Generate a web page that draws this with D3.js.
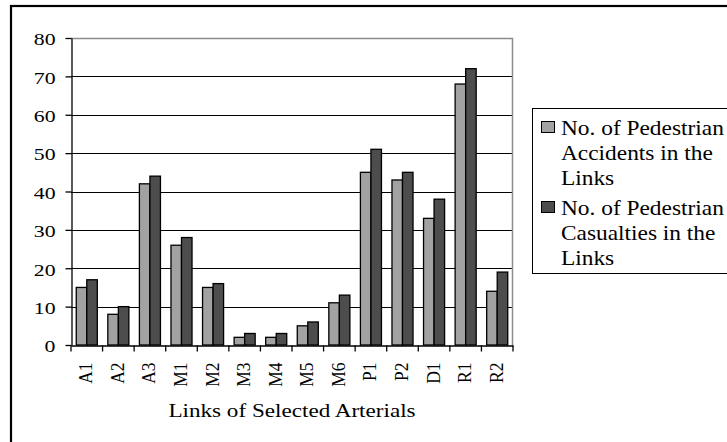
<!DOCTYPE html>
<html>
<head>
<meta charset="utf-8">
<script src="https://cdn.jsdelivr.net/npm/d3@7"></script>
<style>
  body { margin: 0; background: #fff; }
  svg { display: block; }
  text { font-family: "Liberation Serif", "Times New Roman", serif; fill: #000; }
</style>
</head>
<body>
<svg id="chart" width="727" height="442"></svg>
<script>
// Pedestrian accidents and casualties per arterial link
const links = ["A1", "A2", "A3", "M1", "M2", "M3", "M4", "M5", "M6", "P1", "P2", "D1", "R1", "R2"];
const accidents = [15, 8, 42, 26, 15, 2, 2, 5, 11, 45, 43, 33, 68, 14];
const casualties = [17, 10, 44, 28, 16, 3, 3, 6, 13, 51, 45, 38, 72, 19];
const yTickValues = [0, 10, 20, 30, 40, 50, 60, 70, 80];
const seriesLabels = [
  ["No. of Pedestrian", "Accidents in the", "Links"],
  ["No. of Pedestrian", "Casualties in the", "Links"]
];
const seriesColors = ["#a2a2a2", "#4d4d4d"];
const xTitle = "Links of Selected Arterials";

const series = [accidents, casualties];
const svg = d3.select("#chart");

// plot frame
const plot = { left: 71, right: 513, top: 38, bottom: 345 };
const stretch = 1.28; // wide serif lettering for the value axis

// outer chart border
svg.append("rect")
  .attr("x", 11).attr("y", 6)
  .attr("width", 760).attr("height", 480)
  .attr("fill", "none").attr("stroke", "#000").attr("stroke-width", 2.2);

const x = d3.scaleBand().domain(links).range([plot.left, plot.right]).paddingInner(0).paddingOuter(0);
const xSub = d3.scaleBand().domain([0, 1]).range([0, x.bandwidth()]).paddingInner(0).paddingOuter(0.5);
const y = d3.scaleLinear().domain([0, 80]).range([plot.bottom, plot.top]);

// gridlines
svg.append("g").selectAll("line")
  .data(yTickValues.filter(v => v > 0 && v < 80))
  .join("line")
  .attr("x1", plot.left).attr("x2", plot.right)
  .attr("y1", d => Math.round(y(d)) + 0.5).attr("y2", d => Math.round(y(d)) + 0.5)
  .attr("stroke", "#000").attr("stroke-width", 1);

// plot area border (top and right)
svg.append("path")
  .attr("d", `M${plot.left},${plot.top + 0.5}H${plot.right - 0.5}V${plot.bottom}`)
  .attr("fill", "none").attr("stroke", "#8c8c8c").attr("stroke-width", 1.5);

// bars
const groups = svg.append("g").selectAll("g")
  .data(links)
  .join("g")
  .attr("transform", d => `translate(${x(d)},0)`);

groups.selectAll("rect")
  .data((d, i) => series.map((s, k) => ({ k, v: s[i] })))
  .join("rect")
  .attr("x", d => xSub(d.k))
  .attr("y", d => y(d.v))
  .attr("width", xSub.bandwidth())
  .attr("height", d => y(0) - y(d.v))
  .attr("fill", d => seriesColors[d.k])
  .attr("stroke", "#000")
  .attr("stroke-width", 1.3);

// y axis
const yAxis = d3.axisLeft(y).tickValues(yTickValues).tickSize(6).tickPadding(10).tickSizeOuter(0);
const gy = svg.append("g").attr("transform", `translate(${plot.left + 0.5},0)`).call(yAxis);
gy.select(".domain").attr("stroke", "#000").attr("stroke-width", 1.3);
gy.selectAll(".tick line").attr("stroke", "#000").attr("stroke-width", 1.3);
gy.selectAll(".tick text")
  .attr("font-size", 17)
  .each(function () {
    const t = d3.select(this);
    const tx = +t.attr("x");
    t.attr("x", null).attr("transform", `translate(${tx},1) scale(${stretch},1)`).attr("dy", "0.34em");
  });

// x axis
const xAxis = d3.axisBottom(x).tickSize(6).tickSizeOuter(0).tickFormat("");
const gx = svg.append("g").attr("transform", `translate(0,${plot.bottom + 0.5})`).call(xAxis);
gx.select(".domain").attr("stroke", "#000").attr("stroke-width", 1.3);
// ticks sit on category boundaries
gx.selectAll(".tick").remove();
gx.append("g").selectAll("line")
  .data(links.map(d => x(d)).concat([plot.right]))
  .join("line")
  .attr("x1", d => d).attr("x2", d => d)
  .attr("y1", 0).attr("y2", 6)
  .attr("stroke", "#000").attr("stroke-width", 1.3);

gx.append("g").selectAll("text")
  .data(links)
  .join("text")
  .attr("transform", d => `translate(${x(d) + x.bandwidth() / 2 - 1},17) scale(1.12,1) rotate(-90)`)
  .attr("text-anchor", "end")
  .attr("dy", "0.33em")
  .attr("font-size", 17.5)
  .text(d => d);

// x axis title
svg.append("text")
  .attr("transform", `translate(292,417) scale(1.25,1)`)
  .attr("text-anchor", "middle")
  .attr("font-size", 18.5)
  .text(xTitle);

// legend
const legend = svg.append("g");
legend.append("rect")
  .attr("x", 532.5).attr("y", 108.5)
  .attr("width", 240).attr("height", 165)
  .attr("fill", "#fff").attr("stroke", "#000").attr("stroke-width", 1);

seriesLabels.forEach((lines, k) => {
  const top = 135 + k * 80;
  legend.append("rect")
    .attr("x", 541.5).attr("y", top - 13.5)
    .attr("width", 13).attr("height", 11)
    .attr("fill", seriesColors[k])
    .attr("stroke", "#000").attr("stroke-width", 1);
  lines.forEach((line, j) => {
    legend.append("text")
      .attr("transform", `translate(561,${top + j * 25}) scale(1.14,1)`)
      .attr("font-size", 20.5)
      .text(line);
  });
});
</script>
</body>
</html>
